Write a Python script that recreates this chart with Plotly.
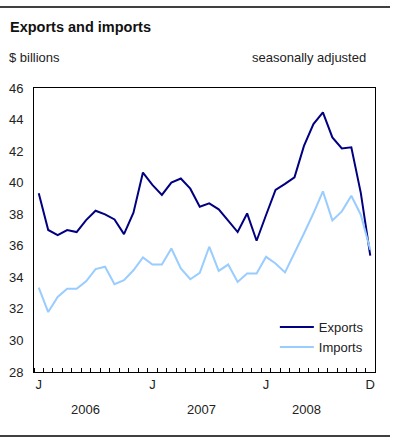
import plotly.graph_objects as go

months = list(range(36))
exports = [39.33, 37.0, 36.68, 37.0, 36.87, 37.63, 38.22, 37.99, 37.67, 36.74, 38.1, 40.64,
           39.86, 39.22, 40.0, 40.26, 39.62, 38.48, 38.69, 38.31, 37.59, 36.87, 38.05, 36.32,
           37.95, 39.54, 39.92, 40.34, 42.33, 43.71, 44.45, 42.87, 42.17, 42.24, 39.35, 35.37]
imports = [33.35, 31.8, 32.76, 33.27, 33.27, 33.75, 34.52, 34.67, 33.56, 33.82, 34.45, 35.26,
           34.81, 34.81, 35.83, 34.56, 33.88, 34.28, 35.94, 34.41, 34.81, 33.71, 34.24, 34.24,
           35.3, 34.88, 34.31, 35.51, 36.78, 38.06, 39.45, 37.61, 38.18, 39.17, 37.97, 35.75]
month_tick_pos = [0, 12, 24, 35]
month_tick_text = ["J", "J", "J", "D"]
years = ["2006", "2007", "2008"]
year_pos = [4.9, 17.2, 28.3]
y_ticks = [28, 30, 32, 34, 36, 38, 40, 42, 44, 46]

FONT = "Liberation Sans, Arial, sans-serif"
W, H = 397, 446
ML, MR, MT, MB = 34, 22, 88, 74

fig = go.Figure()
fig.add_trace(go.Scatter(x=months, y=exports, mode="lines", name="Exports",
                         line=dict(color="#000080", width=2)))
fig.add_trace(go.Scatter(x=months, y=imports, mode="lines", name="Imports",
                         line=dict(color="#99CCFF", width=2)))

fig.update_layout(
    width=W, height=H,
    margin=dict(l=ML, r=MR, t=MT, b=MB, autoexpand=False),
    paper_bgcolor="white", plot_bgcolor="white",
    font=dict(family=FONT, size=13, color="#222222"),
    showlegend=True,
    legend=dict(x=0.982, y=0.035, xanchor="right", yanchor="bottom",
                bgcolor="rgba(0,0,0,0)", font=dict(size=13, color="#222222"),
                itemwidth=34, tracegroupgap=2),
    xaxis=dict(range=[-0.5, 35.5], tickmode="array", tickvals=month_tick_pos,
               ticktext=month_tick_text, ticks="", showgrid=False, zeroline=False,
               showline=True, linecolor="black", linewidth=1, mirror=True,
               automargin=False, tickfont=dict(size=13, color="#222222"),
               minor=dict(tickmode="array", tickvals=[i - 0.5 for i in range(37)],
                          ticks="inside", ticklen=4, tickcolor="black", showgrid=False)),
    yaxis=dict(range=[28, 46], tickmode="array", tickvals=y_ticks, ticks="",
               showgrid=False, zeroline=False, showline=True, linecolor="black",
               linewidth=1, mirror=True, automargin=False,
               tickfont=dict(size=13, color="#222222"), ticklabelstandoff=7),
)


def px_x(px):
    return (px - ML) / (W - ML - MR)


def px_y(py):
    return (H - MB - py) / (H - MT - MB)


for yr, pos in zip(years, year_pos):
    fig.add_annotation(x=pos, y=px_y(409), xref="x", yref="paper", text=yr,
                       showarrow=False, yanchor="middle",
                       font=dict(size=13, color="#222222"))

fig.add_annotation(x=px_x(8), y=px_y(27), xref="paper", yref="paper",
                   text="<b>Exports and imports</b>", showarrow=False,
                   xanchor="left", yanchor="middle", font=dict(size=14.5, color="#111111"))
fig.add_annotation(x=px_x(7), y=px_y(57), xref="paper", yref="paper",
                   text="$ billions", showarrow=False, xanchor="left", yanchor="middle",
                   font=dict(size=13, color="#222222"))
fig.add_annotation(x=px_x(368), y=px_y(57), xref="paper", yref="paper",
                   text="seasonally adjusted", showarrow=False, xanchor="right",
                   yanchor="middle", font=dict(size=13, color="#222222"))

fig.add_shape(type="line", xref="paper", yref="paper", x0=px_x(0), x1=px_x(390),
              y0=px_y(7), y1=px_y(7), line=dict(color="black", width=1.5))
fig.add_shape(type="line", xref="paper", yref="paper", x0=px_x(0), x1=px_x(390),
              y0=px_y(436), y1=px_y(436), line=dict(color="black", width=1.5))

fig.write_html("out.html", config={"displayModeBar": False},
               post_script="document.body.style.margin='0';document.body.style.padding='0';")
